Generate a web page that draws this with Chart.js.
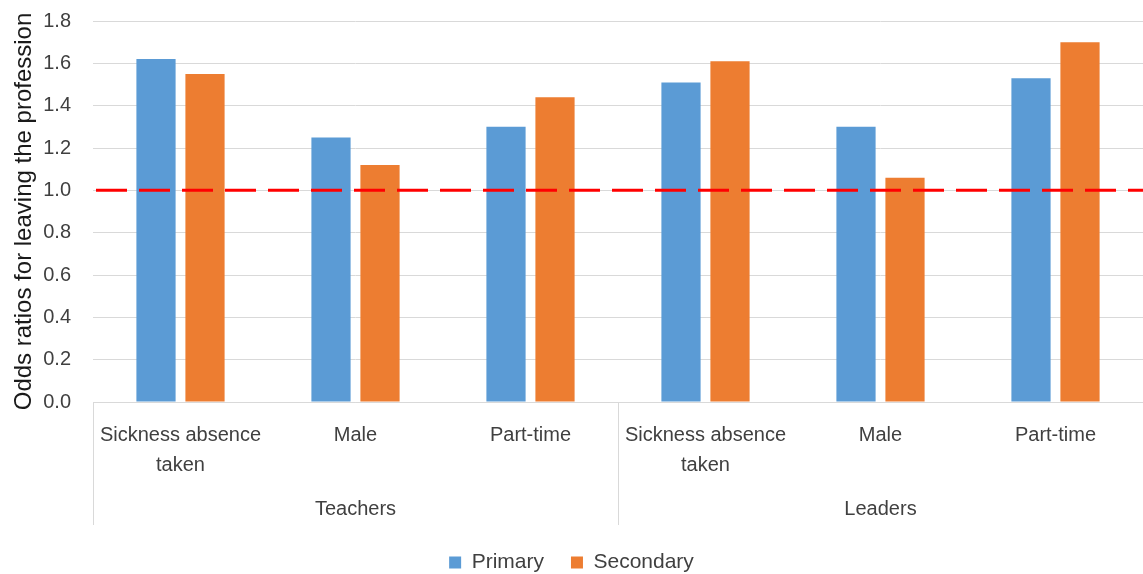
<!DOCTYPE html>
<html lang="en-US">
<head>
  <meta charset="utf-8">
  <title>Odds ratios for leaving the profession</title>
  <script src="https://cdn.jsdelivr.net/npm/chart.js@4"></script>
  <style>
  html, body { margin: 0; padding: 0; background: #fff; }
  #canvas-holder { width: 1143px; height: 574px; }
  </style>
</head>

<body>
  <div id="canvas-holder">
  <canvas id="chart"></canvas>
  </div>
  <script>
    // data
    var categories = [
      ['Sickness absence', 'taken'], 'Male', 'Part-time',
      ['Sickness absence', 'taken'], 'Male', 'Part-time'
    ];
    var groups = ['Teachers', 'Leaders'];
    var groupSize = 3;
    var primary = [1.62, 1.25, 1.30, 1.51, 1.30, 1.53];
    var secondary = [1.55, 1.12, 1.44, 1.61, 1.06, 1.70];
    var referenceLine = 1.0;

    var FONT = 'Liberation Sans';
    var GRID = '#d9d9d9';
    var TEXT = '#404040';

    // red dashed line at odds ratio 1, plus the group row of the x axis
    var extras = {
      id: 'extras',
      afterDatasetsDraw: function (chart) {
        var ctx = chart.ctx, a = chart.chartArea;
        var y = chart.scales.y.getPixelForValue(referenceLine);
        ctx.save();
        ctx.strokeStyle = '#ff0000';
        ctx.lineWidth = 3;
        ctx.setLineDash([31, 12]);
        ctx.beginPath();
        ctx.moveTo(a.left + 3, y);
        ctx.lineTo(a.right, y);
        ctx.stroke();
        ctx.restore();
      },
      afterDraw: function (chart) {
        var ctx = chart.ctx, a = chart.chartArea, x = chart.scales.x;
        var step = x.getPixelForValue(1) - x.getPixelForValue(0);
        var bottom = a.bottom + 123;
        ctx.save();
        ctx.strokeStyle = GRID;
        ctx.lineWidth = 1;
        for (var g = 0; g <= groups.length; g++) {
          var bx = Math.round(x.getPixelForValue(g * groupSize) - step / 2) + 0.5;
          ctx.beginPath();
          ctx.moveTo(bx, a.bottom);
          ctx.lineTo(bx, bottom);
          ctx.stroke();
        }
        ctx.fillStyle = TEXT;
        ctx.font = '20px "' + FONT + '"';
        ctx.textAlign = 'center';
        ctx.textBaseline = 'middle';
        groups.forEach(function (name, g) {
          var l = x.getPixelForValue(g * groupSize) - step / 2;
          var r = x.getPixelForValue(g * groupSize + groupSize - 1) + step / 2;
          ctx.fillText(name, (l + r) / 2, bottom - 16);
        });
        ctx.restore();
      }
    };

    var config = {
      type: 'bar',
      data: {
        labels: categories,
        datasets: [{
          label: 'Primary',
          data: primary,
          backgroundColor: '#5b9bd5',
          categoryPercentage: 0.56,
          barPercentage: 0.8
        }, {
          label: 'Secondary',
          data: secondary,
          backgroundColor: '#ed7d31',
          categoryPercentage: 0.56,
          barPercentage: 0.8
        }]
      },
      options: {
        responsive: true,
        maintainAspectRatio: false,
        animation: false,
        layout: {
          autoPadding: false,
          padding: { top: 21, right: 0, left: 0, bottom: -9 }
        },
        scales: {
          x: {
            grid: { display: false, drawTicks: false },
            border: { color: GRID },
            ticks: {
              color: TEXT,
              font: { family: FONT, size: 20, lineHeight: 1.5 },
              maxRotation: 0,
              autoSkip: false,
              padding: 18
            },
            afterFit: function (scale) { scale.height = 123; }
          },
          y: {
            min: 0,
            max: 1.8,
            grid: { color: GRID, drawTicks: false },
            border: { display: false },
            ticks: {
              stepSize: 0.2,
              color: TEXT,
              padding: 22,
              font: { family: FONT, size: 20 },
              callback: function (v) { return v.toFixed(1); }
            },
            title: {
              display: true,
              text: 'Odds ratios for leaving the profession',
              color: '#1a1a1a',
              font: { family: FONT, size: 24 },
              padding: { top: 10, bottom: 0 }
            },
            afterFit: function (scale) {
              scale.width = 93;
              scale.paddingTop = 0;
              scale.paddingBottom = 0;
            }
          }
        },
        plugins: {
          legend: {
            position: 'bottom',
            labels: {
              color: TEXT,
              font: { family: FONT, size: 21 },
              boxWidth: 12,
              boxHeight: 12,
              padding: 27
            }
          },
          tooltip: { enabled: false }
        }
      },
      plugins: [extras]
    };

    window.onload = function () {
      var ctx = document.getElementById('chart').getContext('2d');
      window.myChart = new Chart(ctx, config);
    };
  </script>
</body>
</html>
